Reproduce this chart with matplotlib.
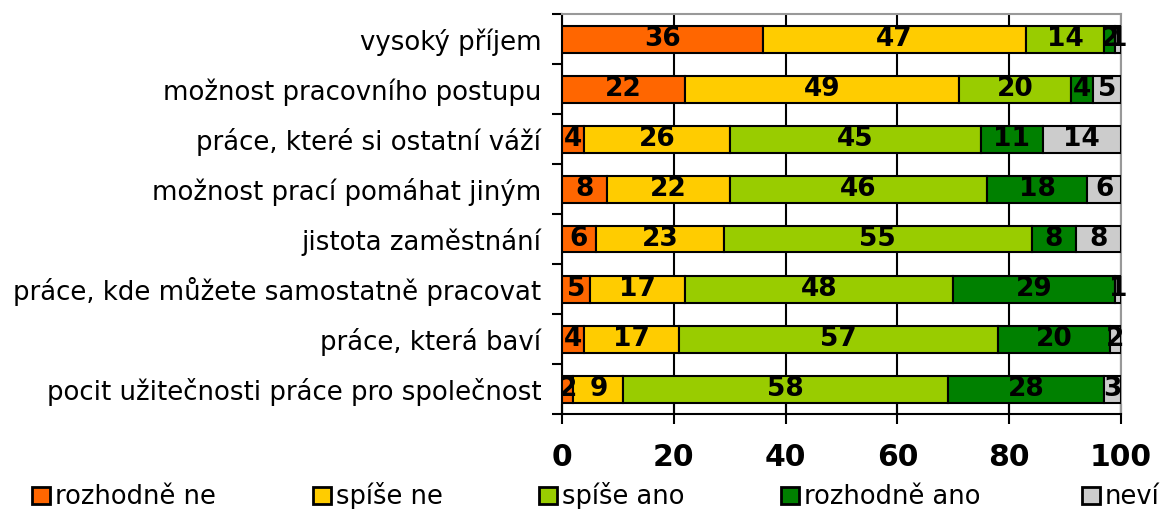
import matplotlib
matplotlib.use("Agg")
import matplotlib.pyplot as plt
import numpy as np
from matplotlib.patches import Rectangle

categories = [
    "vysoký příjem",
    "možnost pracovního postupu",
    "práce, které si ostatní váží",
    "možnost prací pomáhat jiným",
    "jistota zaměstnání",
    "práce, kde můžete samostatně pracovat",
    "práce, která baví",
    "pocit užitečnosti práce pro společnost",
]
series_names = ["rozhodně ne", "spíše ne", "spíše ano", "rozhodně ano", "neví"]
rozhodne_ne = [36, 22, 4, 8, 6, 5, 4, 2]
spise_ne = [47, 49, 26, 22, 23, 17, 17, 9]
spise_ano = [14, 20, 45, 46, 55, 48, 57, 58]
rozhodne_ano = [2, 4, 11, 18, 8, 29, 20, 28]
nevi = [1, 5, 14, 6, 8, 1, 2, 3]
series = [rozhodne_ne, spise_ne, spise_ano, rozhodne_ano, nevi]
colors = ["#FF6600", "#FFCC00", "#99CC00", "#008000", "#CCCCCC"]
xticks = [0, 20, 40, 60, 80, 100]

W, H = 1164, 509
plt.rcParams['font.family'] = ['DejaVu Sans']
fig = plt.figure(figsize=(W / 100, H / 100), dpi=100)
ax = fig.add_axes([562/W, 1 - 414/H, (1121-562)/W, 400/H])

n = len(categories)
y = np.arange(n)
left = np.zeros(n)
for vals, col in zip(series, colors):
    vals = np.array(vals, dtype=float)
    ax.barh(y, vals, left=left, height=0.54, color=col,
            edgecolor="black", linewidth=1.5, zorder=3)
    for yi, l, v in zip(y, left, vals):
        ax.text(l + v / 2, yi, f"{int(v)}", ha="center", va="center",
                fontsize=19, fontweight="bold", color="black", zorder=4)
    left += vals

ax.set_xlim(0, 100)
ax.set_ylim(n - 0.5, -0.5)
ax.set_xticks(xticks)
ax.set_xticklabels([str(t) for t in xticks], fontsize=21.5, fontweight="bold")
ax.tick_params(axis="x", direction="inout", length=14, width=1.5, pad=14)
ax.set_yticks(y)
ax.set_yticklabels(categories, fontsize=18.7)
ax.tick_params(axis="y", which="major", length=0, pad=15)
ax.set_yticks(np.arange(n + 1) - 0.5, minor=True)
ax.tick_params(axis="y", which="minor", direction="out", length=7, width=1.5)
ax.xaxis.grid(True, color="black", linewidth=1.5, zorder=0)
ax.set_axisbelow(True)
for s in ["left", "bottom"]:
    ax.spines[s].set_color("black")
    ax.spines[s].set_linewidth(1.5)
for s in ["top", "right"]:
    ax.spines[s].set_color("#999999")
    ax.spines[s].set_linewidth(1.5)

# legend drawn manually (pixel positions of each entry)
legend_x = [32, 313, 539, 781, 1082]
sq_w, sq_h, sq_top = 18, 17, 487
for name, col, lx in zip(series_names, colors, legend_x):
    fig.add_artist(Rectangle((lx / W, 1 - (sq_top + sq_h) / H), sq_w / W, sq_h / H,
                             transform=fig.transFigure, facecolor=col,
                             edgecolor="black", linewidth=2))
    fig.text((lx + sq_w + 5) / W, 1 - 504 / H, name, fontsize=18.5,
             ha="left", va="baseline")

fig.savefig("out.png", dpi=100)
